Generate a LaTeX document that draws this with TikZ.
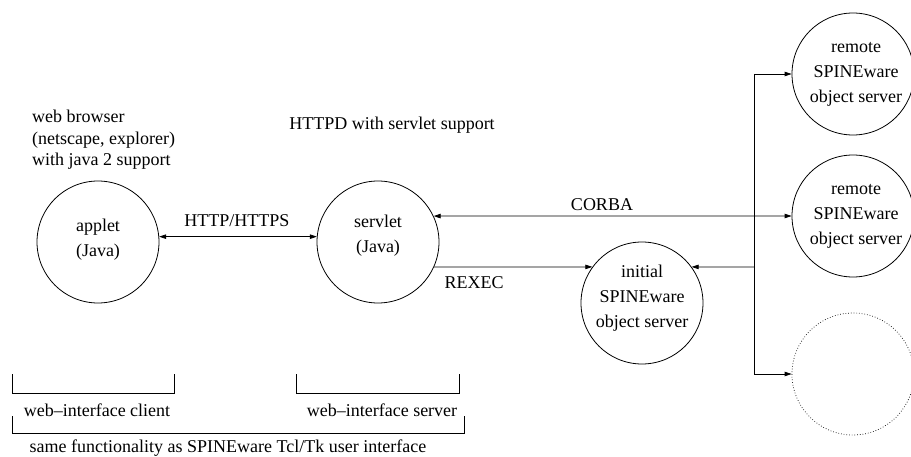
\documentclass[tikz,border=0pt]{standalone}
\usepackage{fontspec}
\setmainfont{Liberation Serif}
\usetikzlibrary{arrows.meta}
\begin{document}
\begin{tikzpicture}[x=1pt,y=-1pt,
  every node/.style={font=\fontsize{18}{25}\selectfont, inner sep=0pt},
  srv/.style={circle, draw, minimum size=122pt, line width=0.8pt},
  ghost/.style={circle, draw, dotted, minimum size=122pt, line width=0.7pt},
  txt/.style={align=center},
  tip/.tip={Triangle[length=7pt,width=4.5pt]},
  conn/.style={line width=0.8pt, -tip},
  both/.style={line width=0.8pt, tip-tip},
  brk/.style={line width=0.8pt}]
\useasboundingbox (0,0) rectangle (911,457);

% circles
\node[srv] (applet) at (98,242) {};
\node[srv] (servlet) at (378,242) {};
\node[srv] (initial) at (642,303) {};
\node[srv] (remote1) at (853,74) {};
\node[srv] (remote2) at (853,216) {};
\node[ghost] (extra) at (853,374) {};

% circle texts
\node[txt] (appletlbl) at (98,240) {applet\\(Java)};
\node[txt] (servletlbl) at (378,236) {servlet\\(Java)};
\node[txt] (initiallbl) at (642,298) {initial\\SPINEware\\object server};
\node[txt] (remote1lbl) at (856,74) {remote\\SPINEware\\object server};
\node[txt] (remote2lbl) at (856,216) {remote\\SPINEware\\object server};

% free texts
\node[anchor=north west, align=left, font=\fontsize{18}{21.5}\selectfont] (browser) at (32,110)
  {web browser\\(netscape, explorer)\\with java 2 support};
\node (httpd) at (392,125) {HTTPD with servlet support};
\node (httplbl) at (237,221) {HTTP/HTTPS};
\node (corbalbl) at (602,205) {CORBA};
\node (rexeclbl) at (474,283) {REXEC};

% connectors
\draw[both] (applet.5) -- (servlet.175);
\draw[both] (servlet.25) -- (remote2.west);
\draw[conn] (servlet.-24) -- (initial.144);

\coordinate (bustop) at (754,74);
\coordinate (busmid) at (754,267);
\coordinate (busbot) at (754,374);
\draw[brk] (bustop) -- (busbot);
\draw[conn] (bustop) -- (remote1.west);
\draw[conn] (busbot) -- (extra.west);
\draw[conn] (busmid) -- (initial.36);

% brackets
\coordinate (cla) at (12,374);
\coordinate (clb) at (174,374);
\draw[brk] (cla) -- ++(0,19) -| (clb);
\coordinate (sva) at (296,374);
\coordinate (svb) at (459,374);
\draw[brk] (sva) -- ++(0,19) -| (svb);
\coordinate (alla) at (12,416);
\coordinate (allb) at (464,416);
\draw[brk] (alla) -- ++(0,17) -| (allb);

\node (clientlbl) at (97,410) {web–interface client};
\node (serverlbl) at (382,410) {web–interface server};
\node[anchor=base] (samelbl) at (228,452.5) {same functionality as SPINEware Tcl/Tk user interface};
\end{tikzpicture}
\end{document}
